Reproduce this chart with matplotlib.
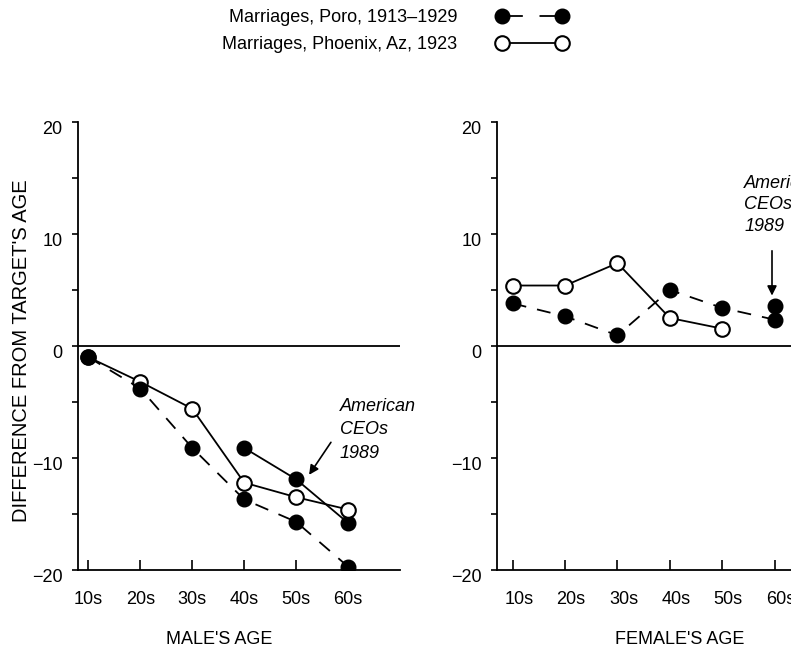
import numpy as np
import matplotlib
matplotlib.use("Agg")
import matplotlib.pyplot as plt
import matplotlib.transforms as mtransforms
from matplotlib.lines import Line2D

plt.rcParams['font.family'] = ['Liberation Sans', 'DejaVu Sans']
plt.rcParams['lines.scale_dashes'] = False

# data
age_labels = ['10s', '20s', '30s', '40s', '50s', '60s']
yticks = [-20, -10, 0, 10, 20]

male_poro = [-1.0, -3.8, -9.1, -13.7, -15.7, -19.7]
male_phoenix = [-1.0, -3.2, -5.6, -12.2, -13.5, -14.6]
male_ceo_x = [3, 4, 5]
male_ceo = [-9.1, -11.9, -15.8]

female_poro = [3.8, 2.65, 0.95, 5.0, 3.4, 2.35]
female_phoenix_x = [0, 1, 2, 3, 4]
female_phoenix = [5.4, 5.4, 7.4, 2.5, 1.55]
female_ceo_x = [5]
female_ceo = [3.6]

poro_label = 'Marriages, Poro, 1913\u20131929'
phoenix_label = 'Marriages, Phoenix, Az, 1923'

FS = 13
W, H = 791, 656
fig = plt.figure(figsize=(W / 100, H / 100), dpi=100)

def px_axes(left, right, top, bottom):
    return fig.add_axes([left / W, 1 - bottom / H, (right - left) / W, (bottom - top) / H])

ax1 = px_axes(78, 400, 122, 570)
ax2 = px_axes(497, 827, 122, 570)

dash = (0, (10, 8))
lw = 1.3
ms = 10.5

def style(ax, xlim):
    ax.set_xlim(*xlim)
    ax.set_ylim(-20, 20)
    for s in ['top', 'right']:
        ax.spines[s].set_visible(False)
    for s in ['left', 'bottom']:
        ax.spines[s].set_linewidth(1.3)
    ax.axhline(0, color='k', lw=1.3, zorder=1)
    ax.set_xticks(range(len(age_labels)))
    ax.set_xticklabels(age_labels, fontsize=FS)
    ax.set_yticks(yticks)
    ax.set_yticklabels([str(v).replace('-', '\u2212') for v in yticks], fontsize=FS)
    ax.set_yticks([-15, -5, 5, 15], minor=True)
    ax.tick_params(axis='x', direction='in', length=7, width=1.2, pad=15)
    ax.tick_params(axis='y', which='both', direction='out', length=4, width=1.2, pad=7)
    # labels in the scan sit a little below their ticks
    off = mtransforms.ScaledTranslation(0, -6 / 100, fig.dpi_scale_trans)
    for lbl in ax.get_yticklabels():
        lbl.set_transform(lbl.get_transform() + off)

style(ax1, (-0.2, 6.0))
style(ax2, (-0.3, 6.0))

xs = np.arange(len(age_labels))

# male panel
ax1.plot(male_ceo_x, male_ceo, color='k', lw=lw, marker='o', ms=ms, mfc='k', zorder=3)
ax1.plot(xs, male_phoenix, color='k', lw=lw, marker='o', ms=ms, mfc='white', mew=1.5, zorder=4)
ax1.plot(xs, male_poro, color='k', lw=lw, ls=dash, marker='o', ms=ms, mfc='k', zorder=5)

# female panel
ax2.plot(female_phoenix_x, female_phoenix, color='k', lw=lw, marker='o', ms=ms, mfc='white', mew=1.5, zorder=4)
ax2.plot(xs, female_poro, color='k', lw=lw, ls=dash, marker='o', ms=ms, mfc='k', zorder=5)
ax2.plot(female_ceo_x, female_ceo, color='k', lw=0, marker='o', ms=ms, mfc='k', zorder=5)

off_r = mtransforms.ScaledTranslation(6 / 100, 0, fig.dpi_scale_trans)
for lbl in ax2.get_xticklabels():
    lbl.set_transform(lbl.get_transform() + off_r)

# annotations
arrow = dict(arrowstyle='-|>', color='k', lw=1.2, mutation_scale=14, shrinkA=0, shrinkB=0)
ax1.text(4.84, -7.5, 'American\nCEOs\n1989', fontsize=FS, style='italic',
         ha='left', va='center', linespacing=1.5)
ax1.annotate('', xy=(4.25, -11.5), xytext=(4.67, -8.6), arrowprops=arrow)
ax2.text(4.42, 12.6, 'American\nCEOs\n1989', fontsize=FS, style='italic',
         ha='left', va='center', linespacing=1.35, clip_on=False)
ax2.annotate('', xy=(4.95, 4.5), xytext=(4.95, 8.5), arrowprops=arrow)

# axis labels
ax1.set_ylabel("DIFFERENCE FROM TARGET'S AGE", fontsize=FS + 1.5)
ax1.yaxis.set_label_coords(-0.146, 0.49)
ax1.set_xlabel("MALE'S AGE", fontsize=FS)
ax1.xaxis.set_label_coords(0.438, -0.136)
ax2.set_xlabel("FEMALE'S AGE", fontsize=FS)
ax2.xaxis.set_label_coords(0.555, -0.136)

# legend (text first, sample on the right)
h_poro = Line2D([], [], color='k', lw=lw, ls=(0, (15, 12)), marker='o', ms=ms, mfc='k')
h_phoenix = Line2D([], [], color='k', lw=lw, marker='o', ms=ms, mfc='white', mew=1.5)
fig.legend([h_poro, h_phoenix], [poro_label, phoenix_label], loc='upper left',
           bbox_to_anchor=(222 / W, 1 - 9 / H), frameon=False, markerfirst=False,
           numpoints=2, handlelength=3.9, handletextpad=2.2, labelspacing=0.55,
           borderpad=0, borderaxespad=0, fontsize=FS)

fig.savefig('out.png', dpi=100)
